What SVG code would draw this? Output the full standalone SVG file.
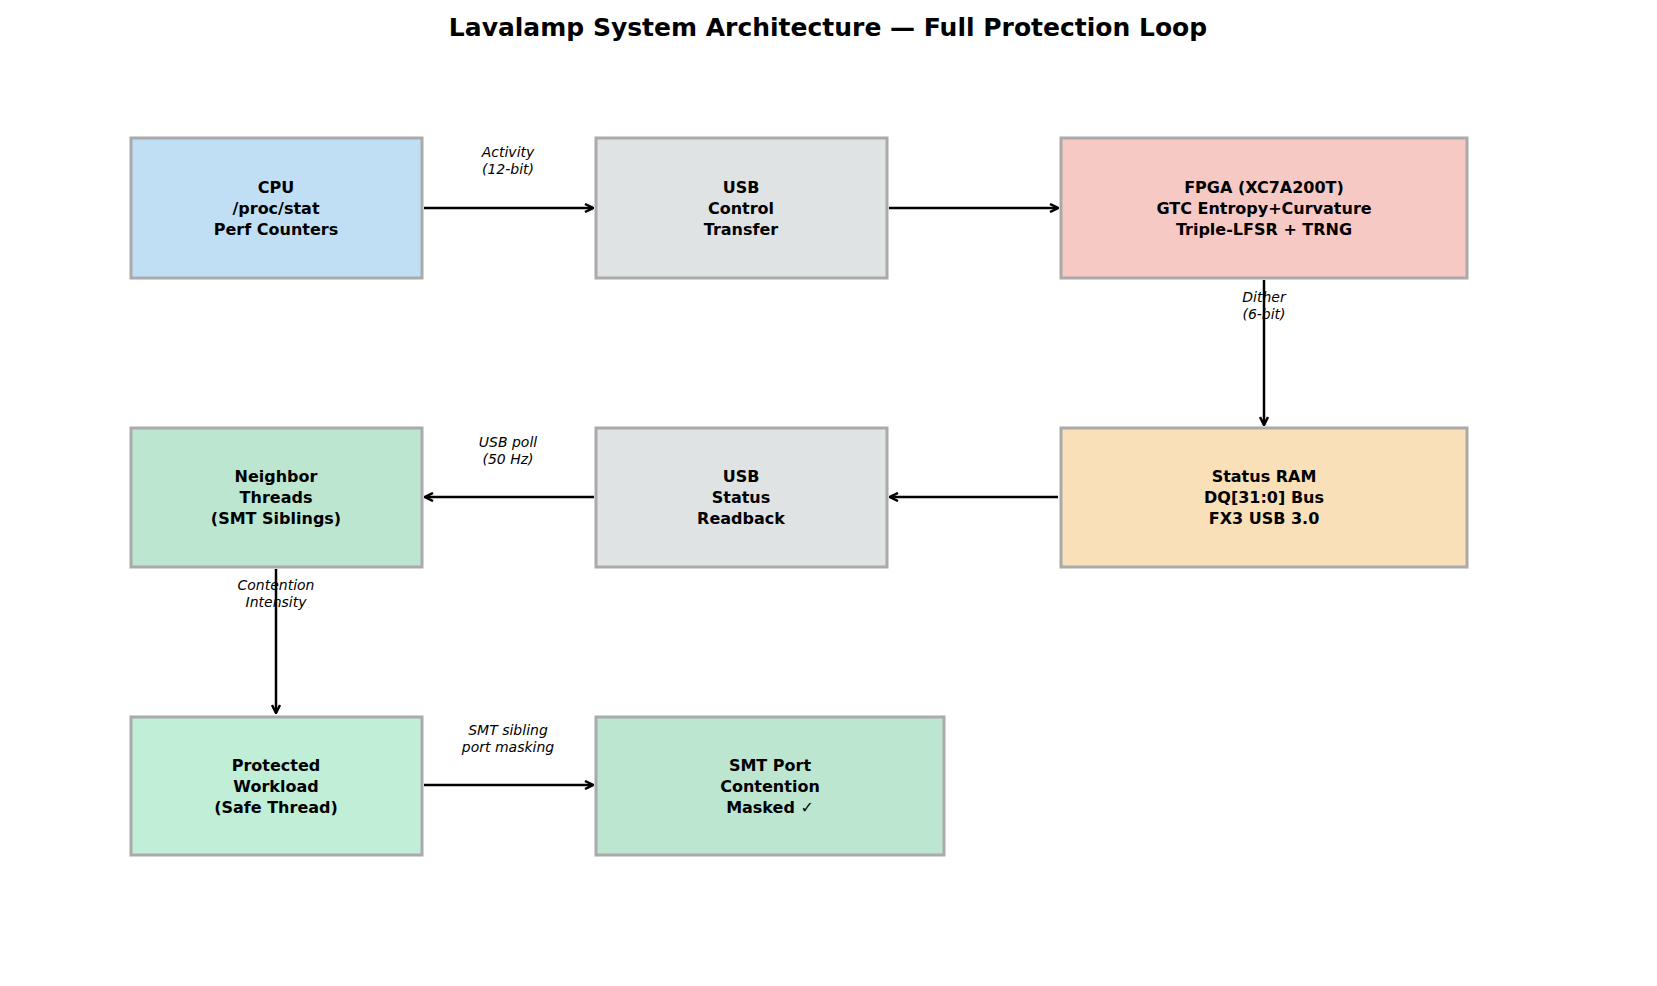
<svg xmlns="http://www.w3.org/2000/svg" width="1657" height="986" viewBox="0 0 1657 986">
<style>
.n{stroke:#aaaaaa;stroke-width:3}
.t{font-family:"DejaVu Sans",sans-serif;font-weight:bold;font-size:16px;text-anchor:middle;dominant-baseline:central;fill:#000}
.l{font-family:"DejaVu Sans",sans-serif;font-style:italic;font-size:14px;text-anchor:middle;dominant-baseline:central;fill:#000}
.c{stroke:#000;stroke-width:2.5;fill:none;marker-end:url(#a)}
</style>
<defs><marker id="a" markerWidth="10" markerHeight="10" refX="9" refY="5" orient="auto" markerUnits="userSpaceOnUse"><path d="M1,1 L9,5 L1,9" fill="none" stroke="#000" stroke-width="2.5"/></marker></defs>
<rect width="1657" height="986" fill="#fff"/>
<text x="828" y="27" style="font-family:'DejaVu Sans',sans-serif;font-weight:bold;font-size:25px;text-anchor:middle;dominant-baseline:central">Lavalamp System Architecture — Full Protection Loop</text>
<g id="connectors">
<line class="c" x1="424" y1="208" x2="593" y2="208"/>
<line class="c" x1="889" y1="208" x2="1058" y2="208"/>
<line class="c" x1="1264" y1="280" x2="1264" y2="425"/>
<line class="c" x1="1058" y1="497" x2="890" y2="497"/>
<line class="c" x1="594" y1="497" x2="425" y2="497"/>
<line class="c" x1="276" y1="569" x2="276" y2="713"/>
<line class="c" x1="424" y1="785" x2="593" y2="785"/>
<text class="l" x="508" y="152">Activity</text><text class="l" x="508" y="169">(12-bit)</text>
<text class="l" x="1264" y="297">Dither</text><text class="l" x="1264" y="314">(6-bit)</text>
<text class="l" x="508" y="442">USB poll</text><text class="l" x="508" y="459">(50 Hz)</text>
<text class="l" x="276" y="585">Contention</text><text class="l" x="276" y="602">Intensity</text>
<text class="l" x="508" y="730">SMT sibling</text><text class="l" x="508" y="747">port masking</text>
</g>
<g id="cpu"><rect class="n" x="131" y="138" width="291" height="140" fill="#c1dff4"/><text class="t" x="276" y="187">CPU</text><text class="t" x="276" y="208">/proc/stat</text><text class="t" x="276" y="229">Perf Counters</text></g>
<g id="usbctl"><rect class="n" x="596" y="138" width="291" height="140" fill="#dfe3e4"/><text class="t" x="741" y="187">USB</text><text class="t" x="741" y="208">Control</text><text class="t" x="741" y="229">Transfer</text></g>
<g id="fpga"><rect class="n" x="1061" y="138" width="406" height="140" fill="#f6c9c4"/><text class="t" x="1264" y="187">FPGA (XC7A200T)</text><text class="t" x="1264" y="208">GTC Entropy+Curvature</text><text class="t" x="1264" y="229">Triple-LFSR + TRNG</text></g>
<g id="neighbor"><rect class="n" x="131" y="428" width="291" height="139" fill="#bde6d1"/><text class="t" x="276" y="476">Neighbor</text><text class="t" x="276" y="497">Threads</text><text class="t" x="276" y="518">(SMT Siblings)</text></g>
<g id="usbstatus"><rect class="n" x="596" y="428" width="291" height="139" fill="#dfe3e4"/><text class="t" x="741" y="476">USB</text><text class="t" x="741" y="497">Status</text><text class="t" x="741" y="518">Readback</text></g>
<g id="ram"><rect class="n" x="1061" y="428" width="406" height="139" fill="#f9e0b8"/><text class="t" x="1264" y="476">Status RAM</text><text class="t" x="1264" y="497">DQ[31:0] Bus</text><text class="t" x="1264" y="518">FX3 USB 3.0</text></g>
<g id="protected"><rect class="n" x="131" y="717" width="291" height="138" fill="#c0eed7"/><text class="t" x="276" y="765">Protected</text><text class="t" x="276" y="786">Workload</text><text class="t" x="276" y="807">(Safe Thread)</text></g>
<g id="smt"><rect class="n" x="596" y="717" width="348" height="138" fill="#bde6d0"/><text class="t" x="770" y="765">SMT Port</text><text class="t" x="770" y="786">Contention</text><text class="t" x="770" y="807">Masked ✓</text></g>
</svg>
